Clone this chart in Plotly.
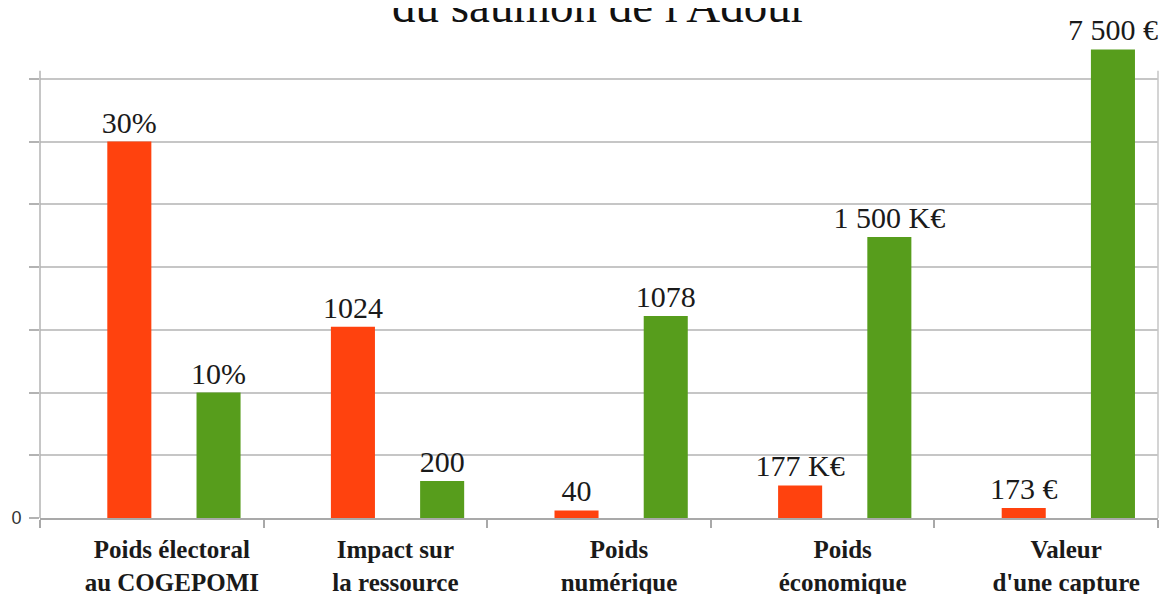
import plotly.graph_objects as go

# ---- data ----
categories = [
    "Poids électoral<br>au COGEPOMI",
    "Impact sur<br>la ressource",
    "Poids<br>numérique",
    "Poids<br>économique",
    "Valeur<br>d'une capture",
]
# plotted (normalised) heights
red_heights = [6.0, 3.05, 0.12, 0.52, 0.16]
green_heights = [2.0, 0.59, 3.22, 4.48, 7.47]
# value labels printed above the bars
red_labels = ["30%", "1024", "40", "177 K€", "173 €"]
green_labels = ["10%", "200", "1078", "1 500 K€", "7 500 €"]
y_tick_values = [0, 1, 2, 3, 4, 5, 6, 7]
y_tick_labels = ["0", "", "", "", "", "", "", ""]
title_text = "du saumon de l'Adour"

RED = "#FF420E"
GREEN = "#579D1C"
SERIF = "Liberation Serif, Times New Roman, serif"
AXIS_TOP = 7.13

fig = go.Figure()
fig.add_trace(go.Bar(
    x=categories, y=red_heights, text=red_labels,
    marker=dict(color=RED, line=dict(width=0)),
    width=0.197, offset=-0.199,
    textposition="outside", constraintext="none", cliponaxis=False,
    textfont=dict(family=SERIF, size=30, color="#1a1a1a"),
    showlegend=False,
))
fig.add_trace(go.Bar(
    x=categories, y=green_heights, text=green_labels,
    marker=dict(color=GREEN, line=dict(width=0)),
    width=0.197, offset=0.2,
    textposition="outside", constraintext="none", cliponaxis=False,
    textfont=dict(family=SERIF, size=30, color="#1a1a1a"),
    showlegend=False,
))

# the page body adds an 8px margin, so the figure is sized to fit the window
fig.update_layout(
    width=1160, height=586,
    margin=dict(l=32, r=10, t=32, b=76),
    paper_bgcolor="white", plot_bgcolor="white",
    barmode="overlay",
    annotations=[dict(
        text=title_text, x=0.5, xref="paper", xanchor="center",
        y=1, yref="paper", yanchor="bottom", yshift=6,
        showarrow=False,
        font=dict(family=SERIF, size=47, color="#111111"),
    )],
    shapes=[
        dict(type="line", xref="paper", yref="y", x0=0, x1=0, y0=0, y1=AXIS_TOP,
             line=dict(color="#b3b3b3", width=1.5)),
        dict(type="line", xref="paper", yref="y", x0=1, x1=1, y0=0, y1=AXIS_TOP,
             line=dict(color="#c6c6c6", width=1.5)),
    ],
)
fig.update_xaxes(
    type="category", automargin=False,
    showline=True, linecolor="#a9a9a9", linewidth=2,
    ticks="outside", tickson="boundaries", ticklen=8, tickcolor="#a9a9a9", tickwidth=1.5,
    showgrid=False,
    tickfont=dict(family=SERIF, size=25, color="#1a1a1a", weight="bold"),
    ticklabelshift=20, ticklabelstandoff=8,
)
fig.update_yaxes(
    range=[0, 7.62], automargin=False,
    tickvals=y_tick_values, ticktext=y_tick_labels,
    showgrid=True, gridcolor="#c6c6c6", gridwidth=1.5,
    showline=False,
    ticks="outside", ticklen=10, tickcolor="#b3b3b3", tickwidth=1.5,
    zeroline=False,
    ticklabelstandoff=4,
    tickfont=dict(family="Liberation Sans, Arial, sans-serif", size=18, color="#333333"),
)

fig.write_html("out.html")
